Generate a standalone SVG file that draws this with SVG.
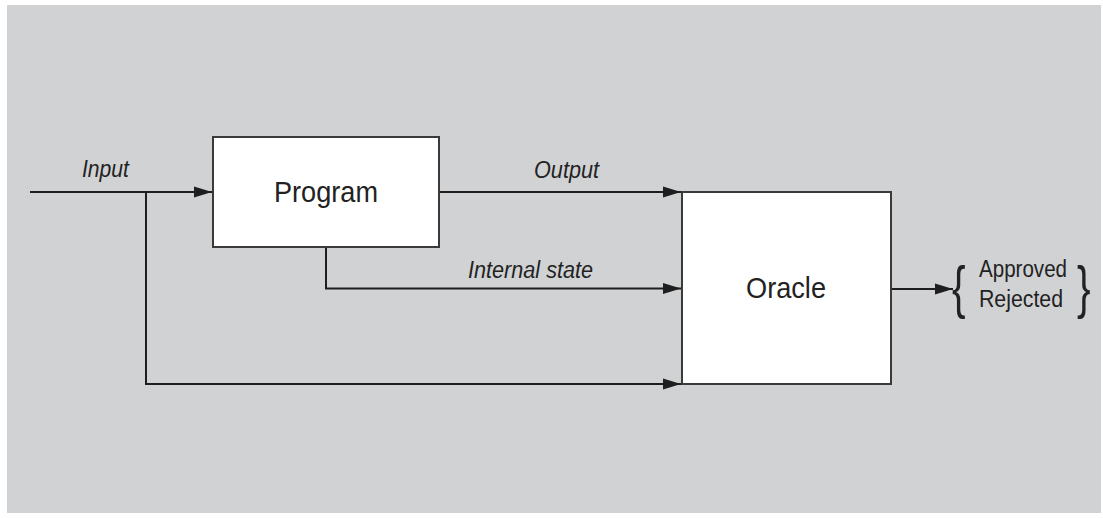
<svg xmlns="http://www.w3.org/2000/svg" width="1103" height="518" viewBox="0 0 1103 518">
<style>
.bg{fill:#d1d2d4}
.box{fill:#fff;stroke:#3a3a3a;stroke-width:2}
.ln{fill:none;stroke:#1e1e1e;stroke-width:2}
.lbl{font-family:"Liberation Sans",Arial,sans-serif;fill:#222}
.it{font-style:italic;font-size:23.5px}
</style>
<defs>
<marker id="ah" markerWidth="18" markerHeight="12" refX="18" refY="6" orient="auto" markerUnits="userSpaceOnUse">
<path d="M0,0.5 L18,6 L0,11.5 Z" fill="#1e1e1e"/>
</marker>
</defs>
<rect width="1103" height="518" fill="#fff"/>
<rect class="bg" x="7" y="5" width="1094" height="508"/>
<g id="connectors">
<line class="ln" x1="30" y1="192" x2="212" y2="192" marker-end="url(#ah)"/>
<polyline class="ln" points="146,192 146,384 681,384" marker-end="url(#ah)"/>
<line class="ln" x1="439" y1="192" x2="681" y2="192" marker-end="url(#ah)"/>
<polyline class="ln" points="326,247 326,288.5 681,288.5" marker-end="url(#ah)"/>
<line class="ln" x1="891" y1="289" x2="953" y2="289" marker-end="url(#ah)"/>
<text class="lbl it" x="82" y="177" textLength="47" lengthAdjust="spacingAndGlyphs">Input</text>
<text class="lbl it" x="534" y="178" textLength="65" lengthAdjust="spacingAndGlyphs">Output</text>
<text class="lbl it" x="468" y="278" textLength="125" lengthAdjust="spacingAndGlyphs">Internal state</text>
</g>
<g id="program">
<rect class="box" x="213" y="137" width="226" height="110"/>
<text class="lbl" x="274" y="202" font-size="29.5" textLength="104" lengthAdjust="spacingAndGlyphs">Program</text>
</g>
<g id="oracle">
<rect class="box" x="682" y="192" width="209" height="192"/>
<text class="lbl" x="746" y="298" font-size="30" textLength="80" lengthAdjust="spacingAndGlyphs">Oracle</text>
</g>
<g id="result">
<text class="lbl" x="0" y="0" font-size="58" transform="translate(952,307) scale(0.7,1)">{</text>
<text class="lbl" x="979" y="277" font-size="23" textLength="88" lengthAdjust="spacingAndGlyphs">Approved</text>
<text class="lbl" x="979" y="307" font-size="23" textLength="84" lengthAdjust="spacingAndGlyphs">Rejected</text>
<text class="lbl" x="0" y="0" font-size="58" transform="translate(1077,307) scale(0.7,1)">}</text>
</g>
</svg>
